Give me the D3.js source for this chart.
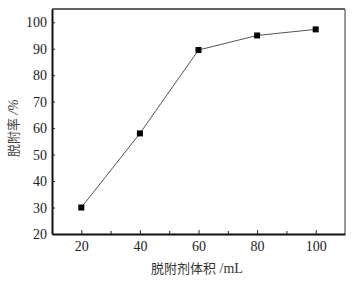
<!DOCTYPE html>
<html><head><meta charset="utf-8">
<script src="https://cdn.jsdelivr.net/npm/d3@7"></script>
<style>body{margin:0;background:#fff}svg{display:block}
.tick text{font-family:"Liberation Serif","DejaVu Serif",serif !important;}
</style>
</head><body>
<svg id="c" width="357" height="282"></svg>
<script>
const volumes = [20, 40, 60, 80, 100];
const rates = [30, 58, 89.5, 95, 97.3];
const xTicks = [20, 40, 60, 80, 100];
const xMinorTicks = [30, 50, 70, 90];
const yTicks = [20, 30, 40, 50, 60, 70, 80, 90, 100];
const xTitleCJK = "脱附剂体积", xTitleUnit = " /mL";
const yTitleCJK = "脱附率", yTitleUnit = " /%";

const svg = d3.select("#c");
const L = 52, R = 345, T = 9, B = 234;
const x = d3.scaleLinear().domain([10, 110]).range([L, R]);
const y = d3.scaleLinear().domain([20, 105]).range([B, T]);
const serif = "Liberation Serif";
const cjk = "Noto Sans CJK SC";

svg.append("line").attr("x1", L).attr("x2", R).attr("y1", T).attr("y2", T).attr("stroke", "#333").attr("stroke-width", 1.5);
svg.append("line").attr("x1", R).attr("x2", R).attr("y1", T).attr("y2", B).attr("stroke", "#777").attr("stroke-width", 1.5);

const xa = svg.append("g").attr("transform", `translate(0,${B})`)
  .call(d3.axisBottom(x).tickValues(xTicks).tickSizeInner(-4).tickSizeOuter(0).tickPadding(7).tickFormat(d3.format("d")));
svg.append("g").attr("transform", `translate(0,${B})`)
  .call(d3.axisBottom(x).tickValues(xMinorTicks).tickSizeInner(-3).tickSizeOuter(0).tickFormat(""))
  .select(".domain").remove();
const ya = svg.append("g").attr("transform", `translate(${L},0)`)
  .call(d3.axisLeft(y).tickValues(yTicks).tickSizeInner(-3).tickSizeOuter(0).tickPadding(5).tickFormat(d3.format("d")));

svg.selectAll("g").attr("font-family", serif);
svg.selectAll(".domain").attr("stroke", "#111").attr("stroke-width", 2);
svg.selectAll(".tick line").attr("stroke", "#222").attr("stroke-width", 1);
svg.selectAll(".tick text").style("font-family", serif).attr("font-size", 14).attr("fill", "#222");
ya.selectAll(".tick").filter(d => d === 20).select("line").remove();

svg.append("path").datum(volumes.map((v, i) => [v, rates[i]]))
  .attr("fill", "none").attr("stroke", "#555").attr("stroke-width", 1)
  .attr("d", d3.line().x(d => x(d[0])).y(d => y(d[1])));
const s = 6;
svg.selectAll("rect.m").data(volumes).enter().append("rect").attr("class", "m")
  .attr("x", (d) => x(d) - s / 2).attr("y", (d, i) => y(rates[i]) - s / 2)
  .attr("width", s).attr("height", s).attr("fill", "#000");

const xt = svg.append("text").attr("x", 197).attr("y", 273).attr("text-anchor", "middle").attr("fill", "#333");
xt.append("tspan").style("font-family", cjk).attr("font-size", 13).text(xTitleCJK);
xt.append("tspan").style("font-family", serif).attr("font-size", 14).text(xTitleUnit);
const yt = svg.append("text").attr("transform", `translate(18,128) rotate(-90)`).attr("text-anchor", "middle").attr("fill", "#444");
yt.append("tspan").style("font-family", cjk).attr("font-size", 13).text(yTitleCJK);
yt.append("tspan").style("font-family", serif).attr("font-style", "italic").attr("font-size", 14).text(yTitleUnit);
</script>
</body></html>
